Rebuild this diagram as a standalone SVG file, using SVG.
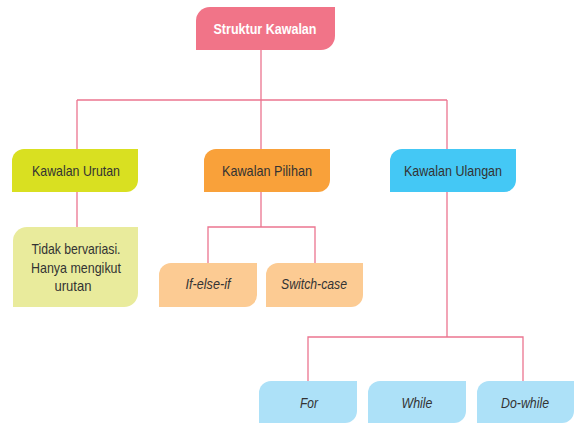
<svg xmlns="http://www.w3.org/2000/svg" width="583" height="428" viewBox="0 0 583 428">
<style>
.c{fill:none;stroke:#ec7590;stroke-width:1.3}
text{font-family:"Liberation Sans",Arial,sans-serif;font-size:15px;fill:#333;text-anchor:middle}
.t{fill:#fff;font-weight:bold}
.i{font-style:italic}
</style>
<rect width="583" height="428" fill="#fff"/>
<g id="connectors">
<path class="c" d="M261,50 V100 M77,100 H447 M77,100 V149 M261,100 V149 M447,100 V149 M77,192 V227 M261,192 V227 M208,263 V227 H315 V263 M447,192 V337 M308,381 V337 H523 V381"/>
</g>
<g id="struktur-kawalan">
<path d="M210,7 H335 V36 A14,14 0 0 1 321,50 H196 V21 A14,14 0 0 1 210,7 Z" fill="#f17488"/>
<text class="t" x="265" y="34" textLength="103" lengthAdjust="spacingAndGlyphs">Struktur Kawalan</text>
</g>
<g id="kawalan-urutan">
<path d="M24,149 H138 V180 A12,12 0 0 1 126,192 H12 V161 A12,12 0 0 1 24,149 Z" fill="#d9e021"/>
<text x="76" y="175.5" textLength="88" lengthAdjust="spacingAndGlyphs">Kawalan Urutan</text>
</g>
<g id="kawalan-pilihan">
<path d="M216,149 H330 V180 A12,12 0 0 1 318,192 H204 V161 A12,12 0 0 1 216,149 Z" fill="#f9a13a"/>
<text x="267" y="175.5" textLength="90" lengthAdjust="spacingAndGlyphs">Kawalan Pilihan</text>
</g>
<g id="kawalan-ulangan">
<path d="M402,149 H516 V180 A12,12 0 0 1 504,192 H390 V161 A12,12 0 0 1 402,149 Z" fill="#44c8f5"/>
<text x="453" y="175.5" textLength="98" lengthAdjust="spacingAndGlyphs">Kawalan Ulangan</text>
</g>
<g id="tidak-bervariasi">
<path d="M27,227 H138 V293 A14,14 0 0 1 124,307 H13 V241 A14,14 0 0 1 27,227 Z" fill="#e9eb9c"/>
<text x="76" y="253.5" textLength="89" lengthAdjust="spacingAndGlyphs">Tidak bervariasi.</text>
<text x="76" y="272.5" textLength="90" lengthAdjust="spacingAndGlyphs">Hanya mengikut</text>
<text x="73" y="291" textLength="37" lengthAdjust="spacingAndGlyphs">urutan</text>
</g>
<g id="if-else-if">
<path d="M171,263 H257 V295 A12,12 0 0 1 245,307 H159 V275 A12,12 0 0 1 171,263 Z" fill="#fccb93"/>
<text class="i" x="208" y="289" textLength="45" lengthAdjust="spacingAndGlyphs">If-else-if</text>
</g>
<g id="switch-case">
<path d="M278,263 H363 V295 A12,12 0 0 1 351,307 H266 V275 A12,12 0 0 1 278,263 Z" fill="#fccb93"/>
<text class="i" x="314" y="289" textLength="66" lengthAdjust="spacingAndGlyphs">Switch-case</text>
</g>
<g id="for">
<path d="M271,381 H357 V411 A12,12 0 0 1 345,423 H259 V393 A12,12 0 0 1 271,381 Z" fill="#ade1f8"/>
<text class="i" x="309" y="408" textLength="18" lengthAdjust="spacingAndGlyphs">For</text>
</g>
<g id="while">
<path d="M380,381 H466 V411 A12,12 0 0 1 454,423 H368 V393 A12,12 0 0 1 380,381 Z" fill="#ade1f8"/>
<text class="i" x="417" y="408" textLength="31" lengthAdjust="spacingAndGlyphs">While</text>
</g>
<g id="do-while">
<path d="M489,381 H574 V411 A12,12 0 0 1 562,423 H477 V393 A12,12 0 0 1 489,381 Z" fill="#ade1f8"/>
<text class="i" x="525" y="408" textLength="48" lengthAdjust="spacingAndGlyphs">Do-while</text>
</g>
</svg>
